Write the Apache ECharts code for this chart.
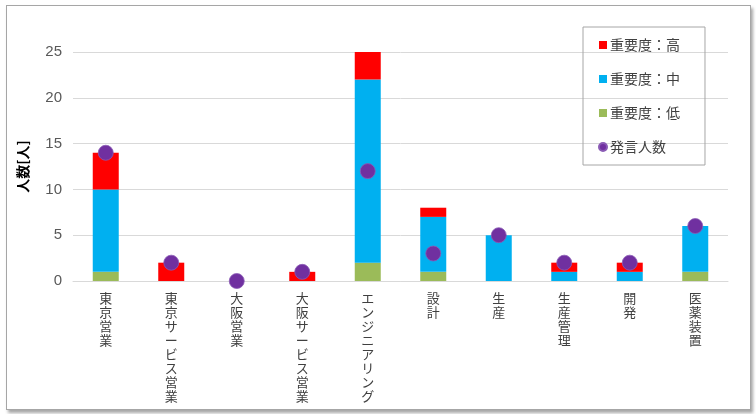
<!DOCTYPE html>
<html><head><meta charset="utf-8">
<script src="https://cdn.jsdelivr.net/npm/echarts@6/dist/echarts.min.js"></script>
<style>
html,body{margin:0;padding:0;background:#fff;}
#frame{position:absolute;left:6px;top:5px;width:743px;height:403px;border:1px solid #a6a6a6;box-shadow:2px 3px 3px rgba(0,0,0,0.35);background:#fff;}
#main{position:absolute;left:0;top:0;width:756px;height:414px;}
</style></head>
<body>
<div id="frame"></div>
<div id="main"></div>
<script>
const categories = ['東京営業','東京サービス営業','大阪営業','大阪サービス営業','エンジニアリング','設計','生産','生産管理','開発','医薬装置'];
const lowValues  = [1, 0, 0, 0, 2, 1, 0, 0, 0, 1];
const midValues  = [9, 0, 0, 0, 20, 6, 5, 1, 1, 5];
const highValues = [4, 2, 0, 1, 3, 1, 0, 1, 1, 0];
const speakers   = [14, 2, 0, 1, 12, 3, 5, 2, 2, 6];
const yTicks = [0, 5, 10, 15, 20, 25];

const font = '"Noto Sans CJK JP", "Noto Sans", sans-serif';
const chart = echarts.init(document.getElementById('main'), null, {renderer:'canvas'});
chart.setOption({
  animation:false,
  backgroundColor:'transparent',
  textStyle:{fontFamily:font},
  grid:{left:73, right:28, top:52, bottom:133, containLabel:false},
  legend:{
    orient:'vertical', left:583, top:27,
    data:[
      {name:'重要度：高', icon:'rect'},
      {name:'重要度：中', icon:'rect'},
      {name:'重要度：低', icon:'rect'},
      {name:'発言人数', icon:'circle', itemStyle:{opacity:1}}
    ],
    itemWidth:8, itemHeight:8, itemGap:20,
    padding:[11, 25, 11, 15],
    borderColor:'#a6a6a6', borderWidth:1,
    textStyle:{fontSize:14, color:'#404040', lineHeight:14, padding:[0,0,0,-2], fontFamily:font}
  },
  xAxis:{
    type:'category', data:categories,
    axisLine:{lineStyle:{color:'#d9d9d9', width:1}},
    axisTick:{show:false},
    axisLabel:{
      interval:0, fontSize:13, lineHeight:14, color:'#404040', margin:10,
      verticalAlign:'top',
      formatter:v=>v.split('').join('\n')
    }
  },
  yAxis:{
    type:'value', min:0, max:25, interval:5,
    name:'人数[人]', nameLocation:'middle', nameGap:43, nameRotate:90,
    nameTextStyle:{fontSize:14, fontWeight:'bold', color:'#000', fontFamily:font},
    axisLine:{show:false}, axisTick:{show:false},
    splitLine:{lineStyle:{color:'#d9d9d9', width:1}},
    axisLabel:{fontSize:15, color:'#595959', margin:11, fontFamily:'"Liberation Sans", sans-serif',
      formatter:v=>yTicks.includes(v)?String(v):''}
  },
  series:[
    {name:'重要度：低', type:'bar', stack:'s', data:lowValues, barWidth:26, itemStyle:{color:'#9BBB59'}},
    {name:'重要度：中', type:'bar', stack:'s', data:midValues, barWidth:26, itemStyle:{color:'#00B0F0'}},
    {name:'重要度：高', type:'bar', stack:'s', data:highValues, barWidth:26, itemStyle:{color:'#FF0000'}},
    {name:'発言人数', type:'scatter', data:speakers, symbolSize:15, itemStyle:{color:'#7030A0', opacity:1, borderColor:'#8a5bb5', borderWidth:0.8}, z:5}
  ]
});
</script>
</body></html>
